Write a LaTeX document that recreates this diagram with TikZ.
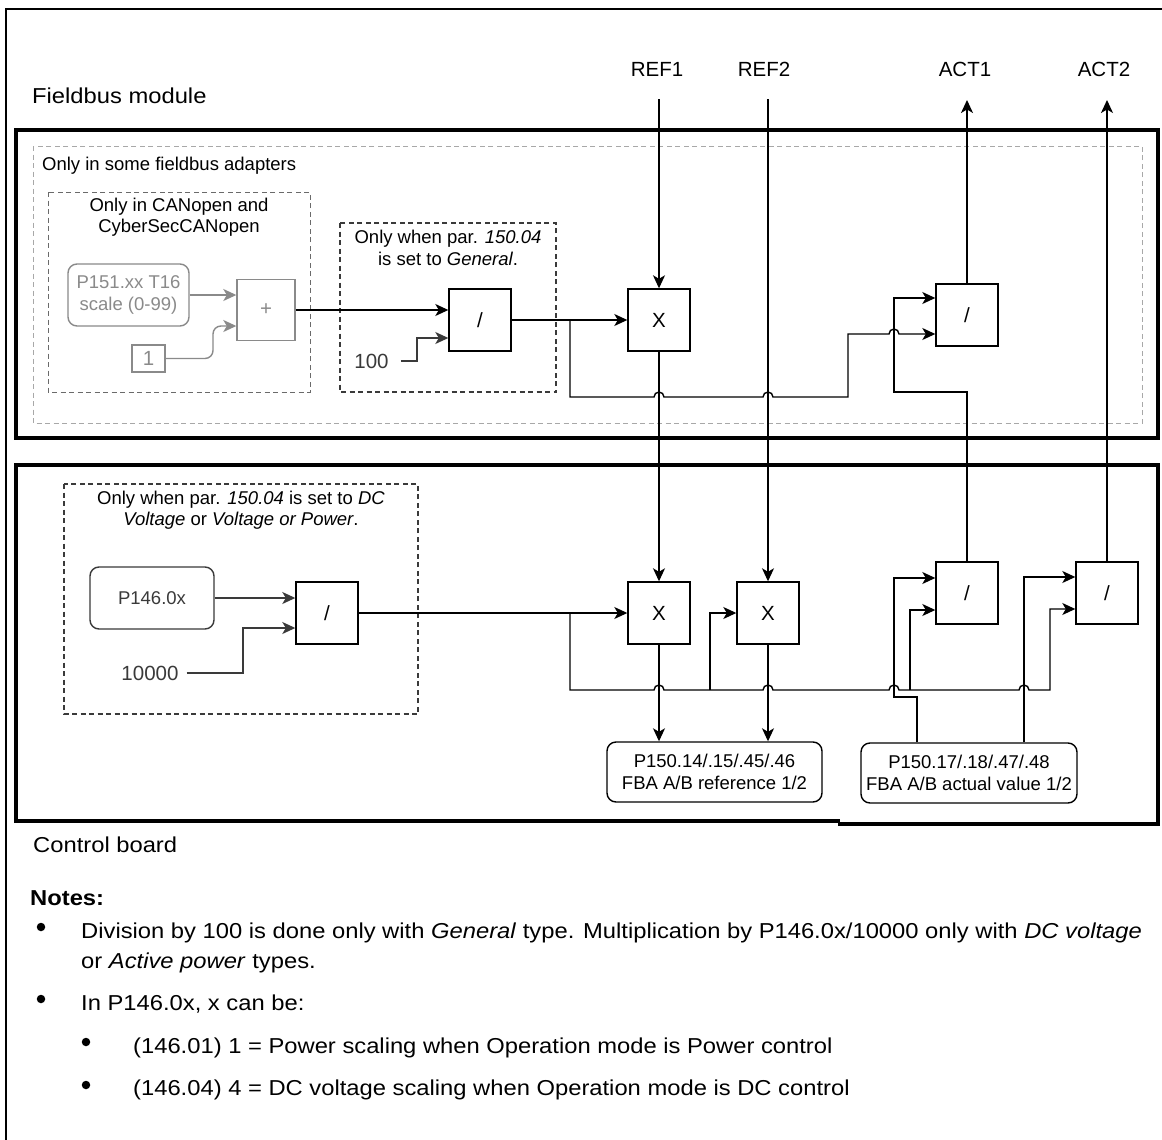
\documentclass[tikz,border=0pt]{standalone}
\usepackage{fontspec}
\setmainfont{Liberation Sans}
\newfontfamily\widefont[FakeStretch=1.1]{Liberation Sans}
\usetikzlibrary{arrows.meta}
\newcommand\fdia{\fontsize{18.5}{21.5}\selectfont}
\newcommand\fop{\fontsize{20.5}{24}\selectfont}
\newcommand\fhead{\widefont\fontsize{21.6}{26}\selectfont}
\definecolor{lgray}{HTML}{A8A8A8}
\definecolor{mgray}{HTML}{8A8A8A}
\definecolor{cgray}{HTML}{6A6A6A}
\definecolor{dgray}{HTML}{3A3A3A}
\begin{document}
\begin{tikzpicture}[x=1pt,y=-1pt,
  conn/.style={line width=1.4pt},
  arr/.style={conn, -{Stealth[length=13pt,width=12pt,inset=3.5pt]}},
  opbox/.style={draw, line width=1.4pt, minimum width=62pt, minimum height=62pt, inner sep=0pt, font=\fop},
  rbox/.style={draw, line width=1.4pt, rounded corners=9pt, inner sep=0pt, align=center, font=\fdia},
  frameline/.style={line width=3.6pt},
  dbox/.style={dash pattern=on 5pt off 3.5pt, line width=1.2pt},
  hd/.style={font=\fhead, anchor=base west, inner sep=0pt},
  bul/.style={circle, fill=black, inner sep=0pt, minimum size=8.5pt},
  dtext/.style={font=\fdia, align=center, inner sep=0pt},
  lbl/.style={font=\fop, inner sep=0pt},
]
\useasboundingbox (0,0) rectangle (1162,1140);
\fill[white] (0,0) rectangle (1162,1140);

% outer frame (clipped at right and bottom)
\draw[line width=1.6pt] (6,1145) -- (6,9) -- (1170,9);

% section frames
\draw[frameline] (16,130) rectangle (1158,438);
\draw[frameline] (840,821) -- (16,821) -- (16,465) -- (1158,465) -- (1158,824) -- (838,824);

% dashed groups
\draw[dbox, lgray, line width=1pt] (33,146) rectangle (1142,423);
\draw[dbox, cgray, line width=1pt] (48,192) rectangle (310,392);
\draw[dbox, dgray] (340,223) rectangle (556,392);
\draw[dbox, dgray] (64,484) rectangle (418,714);

% headings
\node[hd] (fm) at (32,103) {Fieldbus module};
\node[hd] (cb) at (33,852) {Control board};
\node[font=\fdia, anchor=base west, inner sep=0pt] (somelbl) at (42,170.5) {Only in some fieldbus adapters};
\node[dtext] (canlbl) at (179,217) {Only in CANopen and\\CyberSecCANopen};
\node[dtext] (genlbl) at (448,248) {Only when par. \textit{150.04}\\is set to \textit{General}.};
\node[dtext] (dclbl) at (241,510) {Only when par. \textit{150.04} is set to \textit{DC}\\\textit{Voltage} or \textit{Voltage or Power}.};

% REF / ACT labels
\node[lbl] (ref1) at (657,69) {REF1};
\node[lbl] (ref2) at (764,69) {REF2};
\node[lbl] (act1) at (965,69) {ACT1};
\node[lbl] (act2) at (1104,69) {ACT2};
\coordinate (ref1in) at (659,99);
\coordinate (ref2in) at (768,99);
\coordinate (act1out) at (967,100);
\coordinate (act2out) at (1107,100);

% top section blocks
\node[rbox, draw=mgray, text=mgray, minimum width=121pt, minimum height=62pt] (p151) at (128.5,295) {P151.xx T16\\scale (0-99)};
\node[opbox, draw=mgray, text=mgray, minimum width=58pt, minimum height=61pt] (plus) at (266,310) {+};
\node[draw=mgray, text=mgray, line width=1.4pt, minimum width=33pt, minimum height=27pt, inner sep=0pt, font=\fop] (one) at (148.5,358.5) {1};
\node[opbox] (gen) at (480,320) {/};
\node[lbl, text=dgray] (n100) at (371.5,361) {100};
\node[opbox] (xa) at (659,320) {X};
\node[opbox] (acta) at (967,315) {/};

% bottom section blocks
\node[rbox, draw=dgray, text=dgray, minimum width=124pt, minimum height=62pt] (p146) at (152,598) {P146.0x};
\node[opbox] (divb) at (327,613) {/};
\node[lbl, text=dgray] (n10000) at (150,673) {10000};
\node[opbox] (xb) at (659,613) {X};
\node[opbox] (xc) at (768,613) {X};
\node[opbox] (actb) at (967,593) {/};
\node[opbox] (actc) at (1107,593) {/};
\node[rbox, minimum width=215pt, minimum height=60pt] (pref) at (714.5,772) {P150.14/.15/.45/.46\\FBA A/B reference 1/2};
\node[rbox, minimum width=216pt, minimum height=60pt] (pact) at (969,773) {P150.17/.18/.47/.48\\FBA A/B actual value 1/2};

% top connectors
\draw[arr, mgray] (p151.east) -- (plus.west |- p151.east);
\draw[arr, mgray, rounded corners=8pt] (one.east) -- (213,358.5) -- (213,326) -- (plus.west |- 0,326);
\draw[arr] (plus.east) -- (gen.west |- plus.east);
\draw[arr, dgray] ([xshift=12pt]n100.east) -- (417,361) -- (417,338) -- (gen.west |- 0,338);
\draw[arr] (gen.east) -- (xa.west);
\draw[arr] (570,320) -- (570,397) -- (654,397) arc[start angle=180,end angle=0,radius=5pt]
  -- (763,397) arc[start angle=180,end angle=0,radius=5pt]
  -- (848,397) -- (848,334) -- (889,334) arc[start angle=180,end angle=0,radius=5pt]
  -- (acta.west |- 0,334);
\draw[arr] (actb.north) -- (967,392) -- (894,392) -- (894,298) -- (acta.west |- 0,298);
\draw[arr] (acta.north) -- (act1out);
\draw[arr] (ref1in) -- (xa.north);
\draw[arr] (xa.south) -- (xb.north);
\draw[arr] (ref2in) -- (xc.north);
\draw[arr] (actc.north) -- (act2out);

% bottom connectors
\draw[arr, dgray] (p146.east) -- (divb.west |- p146.east);
\draw[arr, dgray] ([xshift=8pt]n10000.east) -- (243,673) -- (243,628) -- (divb.west |- 0,628);
\draw[arr] (divb.east) -- (xb.west);
\draw[arr] (570,613) -- (570,690) -- (654,690) arc[start angle=180,end angle=0,radius=5pt]
  -- (763,690) arc[start angle=180,end angle=0,radius=5pt]
  -- (889,690) arc[start angle=180,end angle=0,radius=5pt]
  -- (1019,690) arc[start angle=180,end angle=0,radius=5pt]
  -- (1050,690) -- (1050,609) -- (actc.west |- 0,609);
\draw[arr] (710,690) -- (710,613) -- (xc.west);
\draw[arr] (910,690) -- (910,610) -- (actb.west |- 0,610);
\draw[arr] (pact.north -| 917,0) -- (917,697) -- (894,697) -- (894,578) -- (actb.west |- 0,578);
\draw[arr] (pact.north -| 1024,0) -- (1024,577) -- (actc.west |- 0,577);
\draw[arr] (xb.south) -- (xb.south |- pref.north);
\draw[arr] (xc.south) -- (xc.south |- pref.north);

% notes
\node[hd, font=\fhead\bfseries] (notes) at (30,905) {Notes:};
\node[bul] (b1) at (41,927) {};
\node[hd] (n1a) at (81,938) {Division by 100 is done only with \textit{General} type. Multiplication by P146.0x/10000 only with \textit{DC voltage}};
\node[hd] (n1b) at (81,968) {or \textit{Active power} types.};
\node[bul] (b2) at (41,999) {};
\node[hd] (n2) at (81,1010) {In P146.0x, x can be:};
\node[bul] (b3) at (86,1042) {};
\node[hd] (n3) at (133,1053) {(146.01) 1 = Power scaling when Operation mode is Power control};
\node[bul] (b4) at (86,1085) {};
\node[hd] (n4) at (133,1095) {(146.04) 4 = DC voltage scaling when Operation mode is DC control};
\end{tikzpicture}
\end{document}
